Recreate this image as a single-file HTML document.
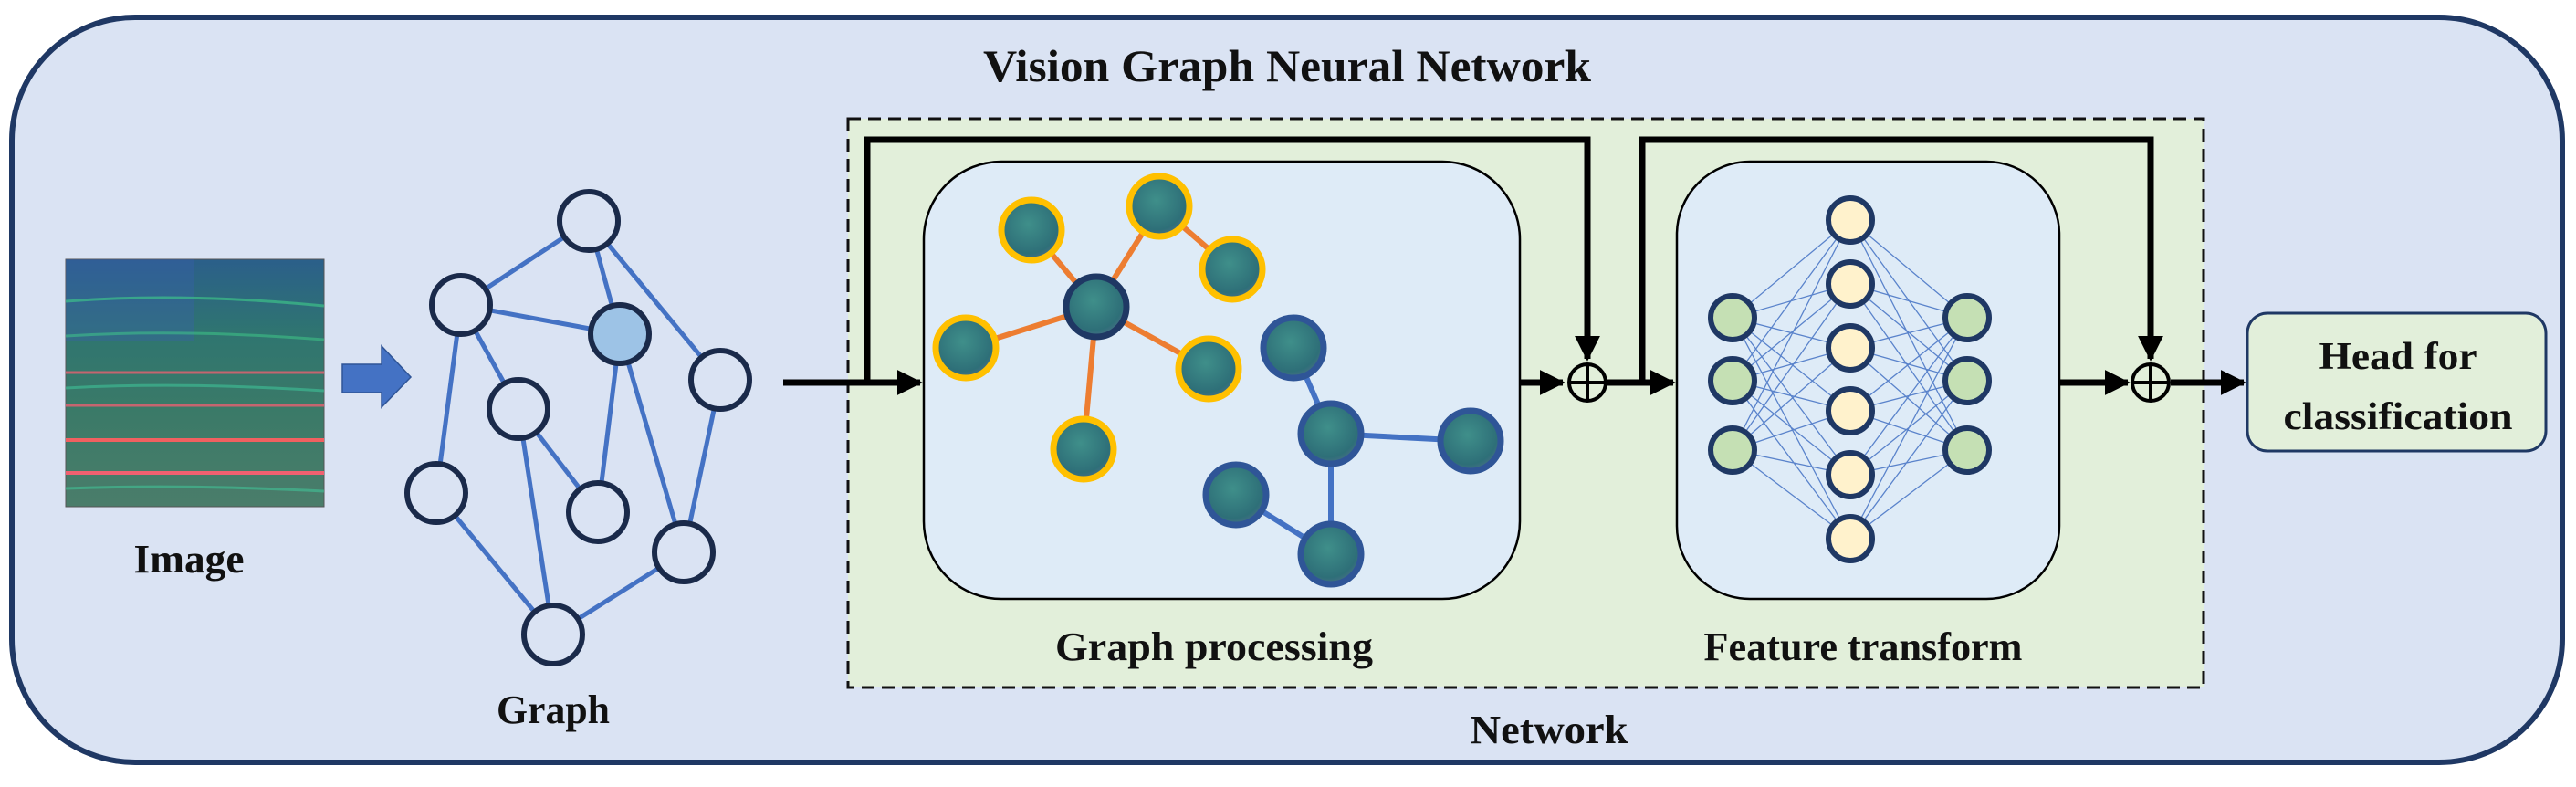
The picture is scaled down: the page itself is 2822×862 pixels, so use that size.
<!DOCTYPE html>
<html><head><meta charset="utf-8"><style>html,body{margin:0;padding:0;background:#fff}svg{display:block}text{font-family:"Liberation Serif",serif;font-weight:bold;fill:#111}</style></head><body>
<svg width="2822" height="862" viewBox="0 0 2822 862" xmlns="http://www.w3.org/2000/svg">
<defs>
<linearGradient id="img" x1="0" y1="0" x2="0" y2="1">
<stop offset="0" stop-color="#2b5f8a"/><stop offset="0.3" stop-color="#2f7570"/><stop offset="0.6" stop-color="#3a7a68"/><stop offset="1" stop-color="#4a7d6a"/></linearGradient>
<radialGradient id="nd" cx="0.45" cy="0.4" r="0.7"><stop offset="0" stop-color="#3f8f8a"/><stop offset="0.7" stop-color="#2e6f78"/><stop offset="1" stop-color="#5a6f90"/></radialGradient>
<marker id="ah" viewBox="0 0 10 10" refX="9" refY="5" markerWidth="4" markerHeight="4" orient="auto"><path d="M0,0L10,5L0,10z" fill="#000"/></marker>
</defs>
<rect x="13" y="19" width="2794" height="816" rx="135" fill="#dae3f3" stroke="#1f3864" stroke-width="6"/>
<text x="1410" y="89" font-size="50" text-anchor="middle" textLength="666" lengthAdjust="spacingAndGlyphs">Vision Graph Neural Network</text>
<!-- image -->
<rect x="72" y="284" width="283" height="271" fill="url(#img)" stroke="#555" stroke-width="1"/>
<rect x="72" y="284" width="140" height="90" fill="#3a5fb0" opacity="0.35"/>
<g fill="none" stroke-width="3">
<path d="M72,330 Q200,320 355,335" stroke="#3fcf8a" opacity="0.6"/>
<path d="M72,368 Q200,360 355,372" stroke="#3fcf8a" opacity="0.5"/>
<path d="M72,408 L355,408" stroke="#e86070" opacity="0.8"/>
<path d="M72,425 Q200,418 355,428" stroke="#40d0a0" opacity="0.5"/>
<path d="M72,444 L355,444" stroke="#e86070" opacity="0.8"/>
<path d="M72,482 L355,482" stroke="#f06060" stroke-width="4"/>
<path d="M72,518 L355,518" stroke="#f06070" stroke-width="4"/>
<path d="M72,535 Q200,530 355,538" stroke="#40d0a0" opacity="0.5"/>
</g>
<text x="207" y="627" font-size="44" text-anchor="middle" textLength="121" lengthAdjust="spacingAndGlyphs">Image</text>
<path d="M375,399 H418 V379 L450,413 L418,446 V430 H375 Z" fill="#4472c4" stroke="#2f5597" stroke-width="1.5"/>
<!-- graph -->
<g stroke="#4472c4" stroke-width="5">
<line x1="645" y1="242" x2="505" y2="334"/><line x1="645" y1="242" x2="679" y2="366"/><line x1="645" y1="242" x2="789" y2="416"/>
<line x1="505" y1="334" x2="679" y2="366"/><line x1="505" y1="334" x2="568" y2="448"/><line x1="505" y1="334" x2="478" y2="540"/>
<line x1="568" y1="448" x2="655" y2="561"/><line x1="568" y1="448" x2="606" y2="695"/><line x1="679" y1="366" x2="655" y2="561"/>
<line x1="679" y1="366" x2="749" y2="605"/><line x1="789" y1="416" x2="749" y2="605"/><line x1="478" y1="540" x2="606" y2="695"/><line x1="749" y1="605" x2="606" y2="695"/>
</g>
<g stroke="#1a2a4a" stroke-width="6" fill="#dae3f3">
<circle cx="645" cy="242" r="32"/><circle cx="505" cy="334" r="32"/><circle cx="679" cy="366" r="32" fill="#9dc3e6"/><circle cx="789" cy="416" r="32"/>
<circle cx="568" cy="448" r="32"/><circle cx="478" cy="540" r="32"/><circle cx="655" cy="561" r="32"/><circle cx="749" cy="605" r="32"/><circle cx="606" cy="695" r="32"/>
</g>
<text x="606" y="792" font-size="44" text-anchor="middle" textLength="124" lengthAdjust="spacingAndGlyphs">Graph</text>
<!-- network dashed -->
<rect x="929" y="130" width="1485" height="623" fill="#e2efda" stroke="#111" stroke-width="3" stroke-dasharray="14,8"/>
<text x="1697" y="814" font-size="44" text-anchor="middle" textLength="173" lengthAdjust="spacingAndGlyphs">Network</text>
<!-- connectors -->
<g stroke="#000" stroke-width="7" fill="none">
<line x1="858" y1="419" x2="1008" y2="419" marker-end="url(#ah)"/>
<polyline points="950,419 950,153 1739,153 1739,393" marker-end="url(#ah)"/>
<line x1="1665" y1="419" x2="1712" y2="419" marker-end="url(#ah)"/>
<line x1="1760" y1="419" x2="1833" y2="419" marker-end="url(#ah)"/>
<polyline points="1799,419 1799,153 2356,153 2356,393" marker-end="url(#ah)"/>
<line x1="2256" y1="419" x2="2331" y2="419" marker-end="url(#ah)"/>
<line x1="2378" y1="419" x2="2458" y2="419" marker-end="url(#ah)"/>
</g>
<g stroke="#000" stroke-width="4" fill="none">
<circle cx="1739" cy="419" r="20"/><line x1="1719" y1="419" x2="1759" y2="419"/><line x1="1739" y1="399" x2="1739" y2="439"/>
<circle cx="2356" cy="419" r="20"/><line x1="2336" y1="419" x2="2376" y2="419"/><line x1="2356" y1="399" x2="2356" y2="439"/>
</g>
<!-- graph processing -->
<rect x="1012" y="177" width="653" height="479" rx="85" fill="#deebf7" stroke="#000" stroke-width="2.5"/>
<g stroke="#ed7d31" stroke-width="6">
<line x1="1201" y1="336" x2="1130" y2="252"/><line x1="1201" y1="336" x2="1270" y2="226"/><line x1="1270" y1="226" x2="1350" y2="295"/>
<line x1="1201" y1="336" x2="1058" y2="381"/><line x1="1201" y1="336" x2="1324" y2="404"/><line x1="1201" y1="336" x2="1187" y2="492"/>
</g>
<g stroke="#4472c4" stroke-width="6">
<line x1="1417" y1="381" x2="1458" y2="475"/><line x1="1458" y1="475" x2="1611" y2="483"/><line x1="1458" y1="475" x2="1458" y2="607"/><line x1="1354" y1="542" x2="1458" y2="607"/>
</g>
<g fill="url(#nd)" stroke="#ffc000" stroke-width="7">
<ellipse cx="1130" cy="252" rx="33" ry="33"/><ellipse cx="1270" cy="226" rx="33" ry="33"/><ellipse cx="1350" cy="295" rx="33" ry="33"/>
<ellipse cx="1058" cy="381" rx="33" ry="33"/><ellipse cx="1324" cy="404" rx="33" ry="33"/><ellipse cx="1187" cy="492" rx="33" ry="33"/>
</g>
<ellipse cx="1201" cy="336" rx="33" ry="33" fill="url(#nd)" stroke="#1f3864" stroke-width="7"/>
<g fill="url(#nd)" stroke="#2f5597" stroke-width="7">
<ellipse cx="1417" cy="381" rx="33" ry="33"/><ellipse cx="1458" cy="475" rx="33" ry="33"/><ellipse cx="1611" cy="483" rx="33" ry="33"/>
<ellipse cx="1354" cy="542" rx="33" ry="33"/><ellipse cx="1458" cy="607" rx="33" ry="33"/>
</g>
<text x="1330" y="723" font-size="44" text-anchor="middle" textLength="348" lengthAdjust="spacingAndGlyphs">Graph processing</text>
<!-- feature transform -->
<rect x="1837" y="177" width="419" height="479" rx="80" fill="#deebf7" stroke="#000" stroke-width="2.5"/>
<g stroke="#4472c4" stroke-width="1.3" opacity="0.85">
<path d="M1898,348L2027,241M1898,348L2027,311M1898,348L2027,381M1898,348L2027,450M1898,348L2027,520M1898,348L2027,590
M1898,417L2027,241M1898,417L2027,311M1898,417L2027,381M1898,417L2027,450M1898,417L2027,520M1898,417L2027,590
M1898,493L2027,241M1898,493L2027,311M1898,493L2027,381M1898,493L2027,450M1898,493L2027,520M1898,493L2027,590
M2155,348L2027,241M2155,348L2027,311M2155,348L2027,381M2155,348L2027,450M2155,348L2027,520M2155,348L2027,590
M2155,417L2027,241M2155,417L2027,311M2155,417L2027,381M2155,417L2027,450M2155,417L2027,520M2155,417L2027,590
M2155,493L2027,241M2155,493L2027,311M2155,493L2027,381M2155,493L2027,450M2155,493L2027,520M2155,493L2027,590"/>
</g>
<g stroke="#1f3864" stroke-width="6">
<g fill="#c5e0b4"><circle cx="1898" cy="348" r="24"/><circle cx="1898" cy="417" r="24"/><circle cx="1898" cy="493" r="24"/>
<circle cx="2155" cy="348" r="24"/><circle cx="2155" cy="417" r="24"/><circle cx="2155" cy="493" r="24"/></g>
<g fill="#fff2cc"><circle cx="2027" cy="241" r="24"/><circle cx="2027" cy="311" r="24"/><circle cx="2027" cy="381" r="24"/>
<circle cx="2027" cy="450" r="24"/><circle cx="2027" cy="520" r="24"/><circle cx="2027" cy="590" r="24"/></g>
</g>
<text x="2041" y="723" font-size="44" text-anchor="middle" textLength="349" lengthAdjust="spacingAndGlyphs">Feature transform</text>
<!-- head -->
<rect x="2462" y="343" width="327" height="151" rx="22" fill="#e2efda" stroke="#1f3864" stroke-width="3"/>
<text x="2627" y="404" font-size="42" text-anchor="middle" textLength="173" lengthAdjust="spacingAndGlyphs">Head for</text>
<text x="2627" y="470" font-size="42" text-anchor="middle" textLength="251" lengthAdjust="spacingAndGlyphs">classification</text>
</svg>
</body></html>
